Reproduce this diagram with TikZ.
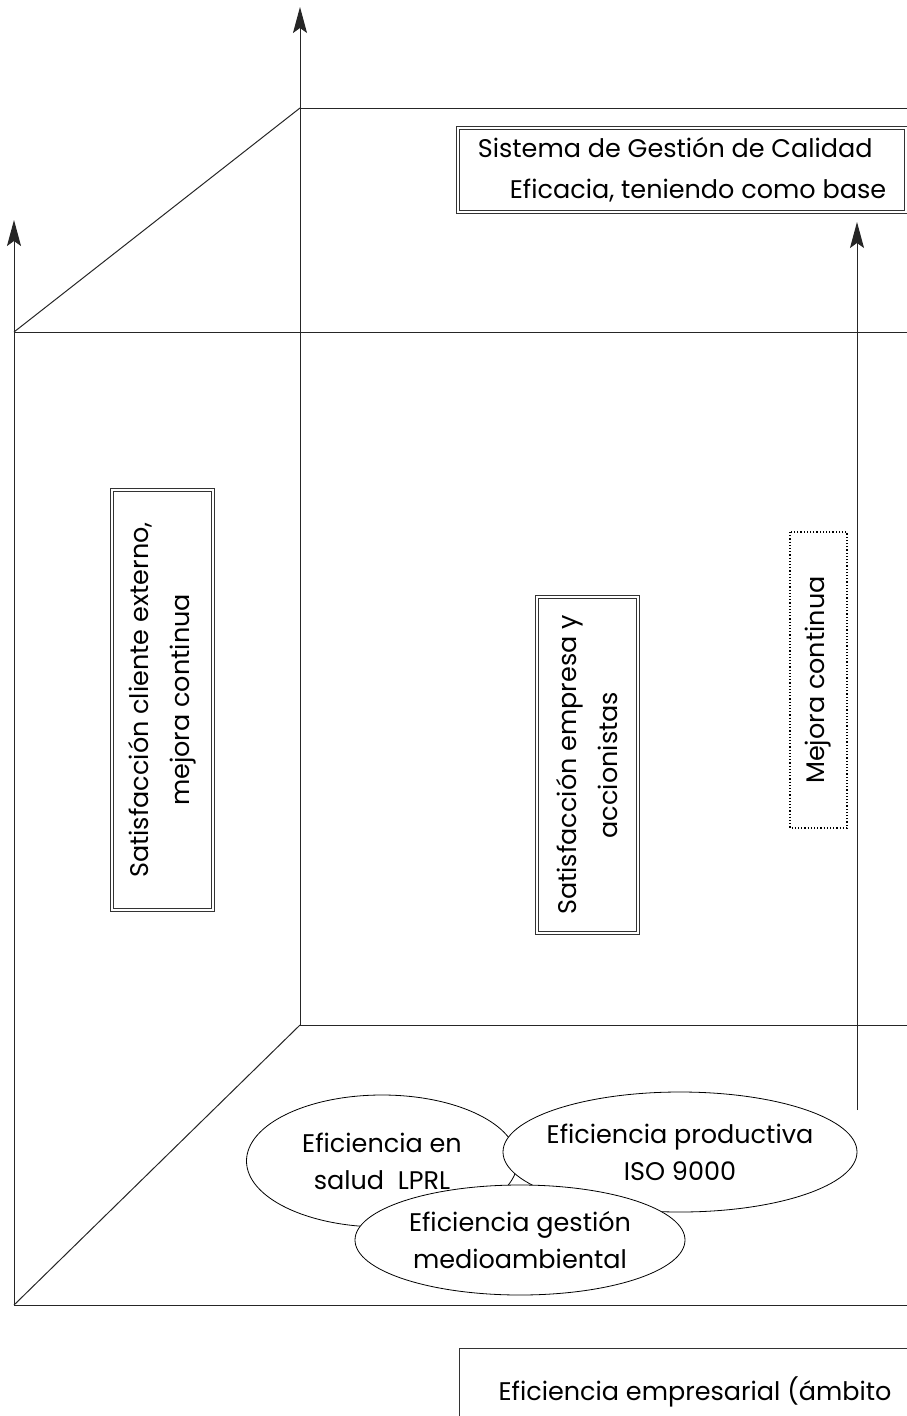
\documentclass[tikz,border=0pt]{standalone}
\usepackage{fontspec}
\setmainfont{Poppins}
\usetikzlibrary{arrows.meta,shapes.geometric}

\tikzset{
  edge/.style={line width=1pt, draw=black!85},
  axis/.style={edge, -{Stealth[length=26pt,width=14pt,inset=5pt]}},
  dbox/.style={draw=black!80, double, double distance=2pt, line width=0.6pt,
    fill=white, inner sep=0pt, align=center},
  dotbox/.style={draw=black, dotted, line width=1.2pt, inner sep=0pt, align=center},
  oval/.style={ellipse, draw=black, line width=0.8pt, fill=white,
    inner xsep=-40pt, inner ysep=-10pt, align=center},
  lbl/.style={font=\fontsize{25.5}{41}\selectfont},
  ovlbl/.style={font=\fontsize{25.5}{37}\selectfont},
}

\begin{document}
\begin{tikzpicture}[x=1pt,y=-1pt]
\useasboundingbox (0,0) rectangle (907,1416);

% corners of the two faces of the box
\coordinate (fTL) at (14,332);
\coordinate (fBL) at (14,1305);
\coordinate (bTL) at (300,108);
\coordinate (bBL) at (300,1025);
\coordinate (fTR) at (910,332);
\coordinate (fBR) at (910,1305);
\coordinate (bTR) at (910,108);
\coordinate (bBR) at (910,1025);
\coordinate (fTop) at (14,220);
\coordinate (bTop) at (300,7);
\coordinate (mStart) at (857,1110);
\coordinate (mTop) at (857,222);

% box edges
\draw[edge] (fTL) -- (fTR);
\draw[edge] (fBL) -- (fBR);
\draw[edge] (bTL) -- (bTR);
\draw[edge] (bBL) -- (bBR);
\draw[edge] (fTL) -- (bTL);
\draw[edge] (fBL) -- (bBL);

% vertical axes
\draw[axis] (fBL) -- (fTop);
\draw[axis] (bBL) -- (bTop);
\draw[axis] (mStart) -- (mTop);

% labelled boxes
\node[dbox, lbl, minimum width=448pt, minimum height=84pt, align=left]
  (sgc) at (682,170)
  {Sistema de Gestión de Calidad\\\hspace{32pt}Eficacia, teniendo como base};

\node[dbox, lbl, rotate=90, minimum width=420pt, minimum height=101pt]
  (cliente) at (162.5,700)
  {Satisfacción cliente externo,\\mejora continua};

\node[dbox, lbl, rotate=90, minimum width=336pt, minimum height=101pt]
  (empresa) at (587.5,765)
  {Satisfacción empresa y\\accionistas};

\node[dotbox, lbl, rotate=90, minimum width=296pt, minimum height=57pt]
  (mejora) at (818.5,680)
  {Mejora continua};

% efficiency ovals
\node[oval, ovlbl, minimum width=271pt, minimum height=132pt]
  (salud) at (382,1161) {Eficiencia en\\salud\ \ LPRL};
\node[oval, ovlbl, minimum width=354pt, minimum height=120pt]
  (prod) at (680,1152) {Eficiencia productiva\\ISO 9000};
\node[oval, ovlbl, minimum width=330pt, minimum height=110pt]
  (medio) at (520,1240) {Eficiencia gestión\\medioambiental};

% bottom box, running past the edge
\node[dbox, minimum width=480pt, minimum height=100pt, anchor=north west]
  (empr) at (458,1347) {};
\node[lbl, anchor=base west] (emprtxt) at (495,1400) {Eficiencia empresarial (ámbito};
\end{tikzpicture}
\end{document}
